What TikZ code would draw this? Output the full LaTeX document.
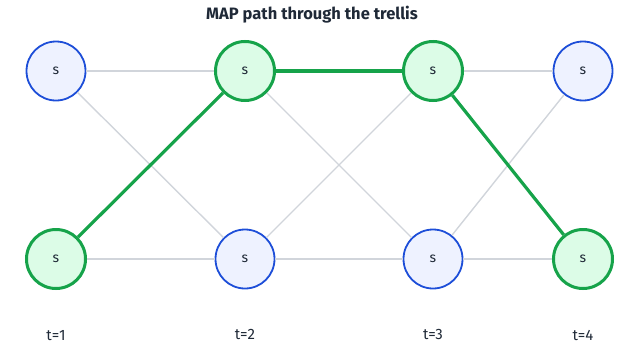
\documentclass[tikz,border=0pt]{standalone}
\usepackage{fontspec}
\setmainfont{Fira Sans}
\usepackage{tikz}
\usetikzlibrary{positioning}

\definecolor{stateblue}{HTML}{1D4ED8}
\definecolor{statebluefill}{HTML}{EEF2FF}
\definecolor{mapgreen}{HTML}{16A34A}
\definecolor{mapgreenfill}{HTML}{DCFCE7}
\definecolor{edgegray}{HTML}{D1D5DB}
\definecolor{inkdark}{HTML}{1F2937}

\begin{document}
\begin{tikzpicture}[x=1pt, y=-1pt,
    state/.style={draw=stateblue, fill=statebluefill, circle, line width=1.8pt, minimum size=59pt, inner sep=0pt, text=inkdark, font=\fontsize{14}{16}\selectfont},
    mapstate/.style={state, draw=mapgreen, fill=mapgreenfill, line width=3pt},
    trans/.style={draw=edgegray, line width=1.4pt},
    mappath/.style={draw=mapgreen, line width=3.2pt},
    tlabel/.style={text=inkdark, inner sep=0pt, font=\fontsize{15}{17}\selectfont}]
        \useasboundingbox (0,0) rectangle (618,343);

        % Title
        \node[font=\bfseries\fontsize{16.5}{19}\selectfont, text=inkdark] (title) at (312,15) {MAP path through the trellis};

        % Top row of states
        \node[state] (top1) at (56,71) {s};
        \node[mapstate] (top2) at (245,71) {s};
        \node[mapstate] (top3) at (433,71) {s};
        \node[state] (top4) at (583,71) {s};

        % Bottom row of states
        \node[mapstate] (bot1) at (56,259) {s};
        \node[state] (bot2) at (245,259) {s};
        \node[state] (bot3) at (433,259) {s};
        \node[mapstate] (bot4) at (583,259) {s};

        % Time steps
        \node[tlabel, below=40pt of bot1] (t1) {t=1};
        \node[tlabel, below=40pt of bot2] (t2) {t=2};
        \node[tlabel, below=40pt of bot3] (t3) {t=3};
        \node[tlabel, below=40pt of bot4] (t4) {t=4};

        % All transitions
        \foreach \a/\b in {1/2,2/3,3/4} {
            \path[trans] (top\a) -- (top\b);
            \path[trans] (top\a) -- (bot\b);
            \path[trans] (bot\a) -- (top\b);
            \path[trans] (bot\a) -- (bot\b);
        }

        % MAP path
        \draw[mappath] (bot1) -- (top2);
        \draw[mappath] (top2) -- (top3);
        \draw[mappath] (top3) -- (bot4);
    \end{tikzpicture}
\end{document}
